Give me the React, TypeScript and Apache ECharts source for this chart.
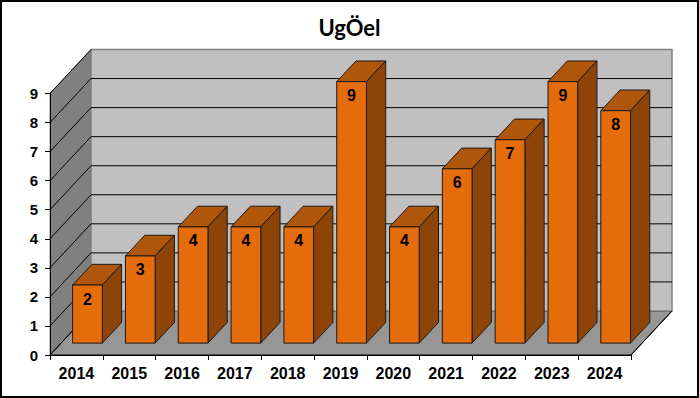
import React, { useEffect, useRef } from "react";
import * as echarts from "echarts";

const years = ["2014", "2015", "2016", "2017", "2018", "2019", "2020", "2021", "2022", "2023", "2024"];
const counts = [2, 3, 4, 4, 4, 9, 4, 6, 7, 9, 8];
const yMin = 0;
const yMax = 9;
const yStep = 1;
const gridValues = [0, 1, 2, 3, 4, 5, 6, 7, 8, 9];
const titleText = "UgÖel";

const DEPTH_X = 41;
const DEPTH_Y = -44;
const BAR_FRONT = 0.27;
const BAR_DEPTH = 0.47;
const BAR_W = 0.562;

export default function App() {
  const ref = useRef<HTMLDivElement>(null);
  useEffect(() => {
    document.body.style.margin = "0";
    const chart = echarts.init(ref.current!, undefined, { renderer: "svg" });

    const wallsRender = (params: any, api: any) => {
      const cs = params.coordSys;
      const left = cs.x;
      const right = cs.x + cs.width;
      const top = cs.y;
      const bottom = cs.y + cs.height;
      const dx = DEPTH_X;
      const dy = DEPTH_Y;
      const children: any[] = [];
      children.push({
        type: "polygon",
        shape: { points: [[left, bottom], [left, top], [left + dx, top + dy], [left + dx, bottom + dy]] },
        style: { fill: "#808080", stroke: "#808080", lineWidth: 1 },
      });
      children.push({
        type: "polygon",
        shape: { points: [[left, bottom], [right, bottom], [right + dx, bottom + dy], [left + dx, bottom + dy]] },
        style: { fill: "#969696", stroke: "#000", lineWidth: 1 },
      });
      children.push({
        type: "rect",
        shape: { x: left + dx, y: top + dy, width: right - left, height: bottom - top },
        style: { fill: "#C0C0C0", stroke: "#808080", lineWidth: 1.5 },
      });
      gridValues.forEach((v) => {
        const p = api.coord([0, v]);
        const y = p[1];
        if (v > 0 && v < yMax) {
          children.push({
            type: "polyline",
            shape: { points: [[left, y], [left + dx, y + dy], [right + dx, y + dy]] },
            style: { stroke: "#000", lineWidth: 1, fill: null },
          });
        } else {
          children.push({
            type: "line",
            shape: { x1: left, y1: y, x2: left + dx, y2: y + dy },
            style: { stroke: "#000", lineWidth: 1 },
          });
        }
      });
      children.push({
        type: "line",
        shape: { x1: right, y1: bottom, x2: right + dx, y2: bottom + dy },
        style: { stroke: "#000", lineWidth: 1 },
      });
      return { type: "group", children };
    };

    const barRender = (params: any, api: any) => {
      const i = api.value(0);
      const v = api.value(1);
      const base = api.coord([i, 0]);
      const tp = api.coord([i, v]);
      const band = api.size([1, 0])[0];
      const w = band * BAR_W;
      const fx = DEPTH_X * BAR_FRONT;
      const fy = DEPTH_Y * BAR_FRONT;
      const bx = DEPTH_X * BAR_DEPTH;
      const by = DEPTH_Y * BAR_DEPTH;
      const x0 = base[0] - w / 2 + fx;
      const x1 = x0 + w;
      const yb = base[1] + fy;
      const yt = tp[1] + fy;
      const stroke = "#1a1a1a";
      return {
        type: "group",
        children: [
          {
            type: "polygon",
            shape: { points: [[x0, yt], [x1, yt], [x1 + bx, yt + by], [x0 + bx, yt + by]] },
            style: { fill: "#B0560A", stroke, lineWidth: 1 },
          },
          {
            type: "polygon",
            shape: { points: [[x1, yt], [x1 + bx, yt + by], [x1 + bx, yb + by], [x1, yb]] },
            style: { fill: "#8E4407", stroke, lineWidth: 1 },
          },
          {
            type: "rect",
            shape: { x: x0, y: yt, width: w, height: yb - yt },
            style: { fill: "#E46C0A", stroke, lineWidth: 1 },
          },
          {
            type: "text",
            x: (x0 + x1) / 2,
            y: yt + 14,
            style: {
              text: String(v),
              fill: "#000",
              font: 'bold 16px "Liberation Sans"',
              align: "center",
              verticalAlign: "middle",
            },
          },
        ],
      };
    };

    chart.setOption({
      animation: false,
      backgroundColor: "#fff",
      title: {
        text: titleText,
        left: "center",
        top: 11,
        textStyle: { fontFamily: "Lato", fontWeight: "bold", fontSize: 22, color: "#000" },
      },
      grid: { left: 50, right: 68, top: 93.5, bottom: 43, containLabel: false },
      xAxis: {
        type: "category",
        data: years,
        z: 10,
        axisLine: { show: true, lineStyle: { color: "#000", width: 1 } },
        axisTick: { show: true, length: 5, lineStyle: { color: "#000" } },
        axisLabel: {
          color: "#000",
          fontFamily: "Liberation Sans",
          fontWeight: "bold",
          fontSize: 16,
          margin: 10,
        },
        splitLine: { show: false },
      },
      yAxis: {
        type: "value",
        min: yMin,
        max: yMax,
        interval: yStep,
        z: 10,
        axisLine: { show: true, lineStyle: { color: "#000", width: 1 } },
        axisTick: { show: true, length: 5, lineStyle: { color: "#000" } },
        axisLabel: {
          color: "#000",
          fontFamily: "Liberation Sans",
          fontWeight: "bold",
          fontSize: 15,
          margin: 12,
        },
        splitLine: { show: false },
      },
      graphic: [
        {
          type: "rect",
          shape: { x: 1, y: 1, width: 697, height: 396 },
          style: { fill: null, stroke: "#000", lineWidth: 2 },
          z: 100,
        },
      ],
      series: [
        {
          type: "custom",
          renderItem: wallsRender,
          data: [[0, 0]],
          z: 1,
          silent: true,
        },
        {
          type: "custom",
          renderItem: barRender,
          data: counts.map((v, i) => [i, v]),
          encode: { x: 0, y: 1 },
          z: 3,
        },
      ],
    });
    return () => chart.dispose();
  }, []);
  return <div ref={ref} style={{ width: 699, height: 398 }} />;
}
